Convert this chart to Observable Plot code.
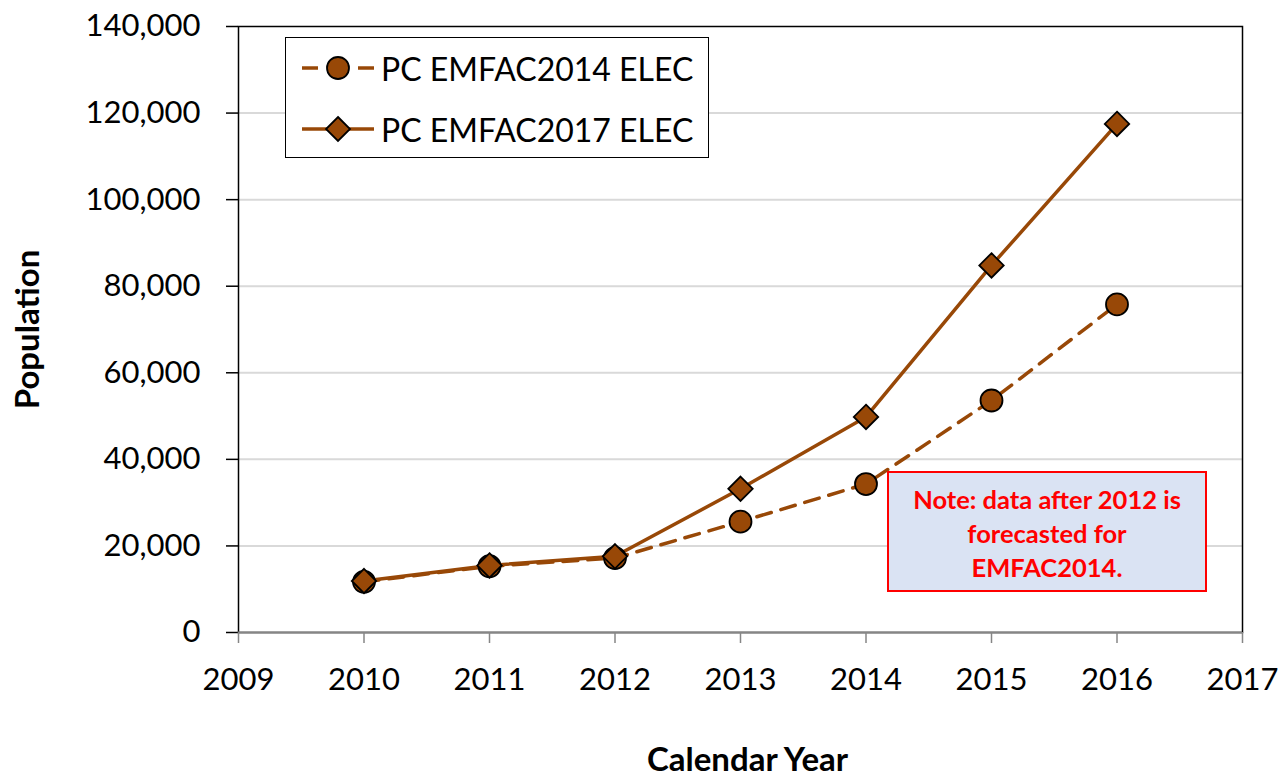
<!DOCTYPE html>
<html>
<head>
<meta charset="utf-8">
<script src="https://cdn.jsdelivr.net/npm/d3@7"></script>
<script src="https://cdn.jsdelivr.net/npm/@observablehq/plot@0.6"></script>
<style>
  html, body { margin: 0; padding: 0; background: #fff; }
  #wrap { position: relative; width: 1287px; height: 779px; font-family: Lato, "Open Sans", sans-serif; }
  #legend { position: absolute; left: 285px; top: 37px; width: 424px; height: 121px; border: 1.5px solid #000; background: #fff; box-sizing: border-box; }
  .lrow { position: absolute; left: 0; height: 40px; display: flex; align-items: center; }
  .lrow svg { margin-left: 14px; }
  .lrow span { font-size: 32px; color: #000; margin-left: 5px; white-space: nowrap; }
  #note { position: absolute; left: 887px; top: 471px; width: 320px; height: 121px; box-sizing: border-box; border: 2px solid #ff0000; background: #dae3f3; color: #ff0000; font-weight: 700; font-size: 25.5px; line-height: 34px; text-align: center; padding-top: 9px; }
</style>
</head>
<body>
<div id="wrap"></div>
<script>
const years = [2010, 2011, 2012, 2013, 2014, 2015, 2016];
const emfac2014 = [11700, 15300, 17200, 25600, 34300, 53600, 75800];
const emfac2017 = [11900, 15500, 17600, 33200, 49800, 84800, 117500];
const seriesNames = ["PC EMFAC2014 ELEC", "PC EMFAC2017 ELEC"];
const xTicks = [2009, 2010, 2011, 2012, 2013, 2014, 2015, 2016, 2017];
const yTicks = [0, 20000, 40000, 60000, 80000, 100000, 120000, 140000];
const gridValues = [20000, 40000, 60000, 80000, 100000, 120000];
const noteText = "Note: data after 2012 is<br>forecasted for<br>EMFAC2014.";

const brown = "#984807";
const d14 = years.map((y, i) => ({year: y, value: emfac2014[i]}));
const d17 = years.map((y, i) => ({year: y, value: emfac2017[i]}));

const chart = Plot.plot({
  width: 1287,
  height: 779,
  marginLeft: 238,
  marginRight: 45,
  marginTop: 26,
  marginBottom: 147,
  style: { fontFamily: "Lato, 'Open Sans', sans-serif", background: "#fff", overflow: "visible" },
  x: { domain: [2009, 2017] },
  y: { domain: [0, 140000] },
  marks: [
    Plot.ruleY(gridValues, { stroke: "#d9d9d9", strokeWidth: 2 }),
    Plot.frame({ stroke: "#000", strokeWidth: 1.5 }),
    Plot.ruleY([0], { stroke: "#868686", strokeWidth: 2 }),
    Plot.axisY({ ticks: yTicks, tickFormat: d3.format(","), tickSize: 12, tickPadding: 26, fontSize: 31, color: "#000", label: null, stroke: "#000", strokeWidth: 1.5 }),
    Plot.axisX({ ticks: xTicks, tickFormat: d => String(d), tickSize: 11, tickPadding: 24, fontSize: 31, label: null, stroke: "#868686", strokeWidth: 1.5 }),
    Plot.text(["Population"], { frameAnchor: "left", textAnchor: "middle", dx: -210, rotate: -90, fontSize: 33, fontWeight: "bold", fill: "#000" }),
    Plot.text(["Calendar Year"], { frameAnchor: "bottom", textAnchor: "middle", dy: 138, dx: 7, fontSize: 33, fontWeight: "bold", fill: "#000" }),
    Plot.line(d14, { x: "year", y: "value", stroke: brown, strokeWidth: 3.5, strokeDasharray: "15,10" }),
    Plot.line(d17, { x: "year", y: "value", stroke: brown, strokeWidth: 3.5 }),
    Plot.dot(d14, { x: "year", y: "value", symbol: "circle", r: 11, fill: brown, stroke: "#000", strokeWidth: 1.8 }),
    Plot.dot(d17, { x: "year", y: "value", symbol: "diamond2", r: 11, fill: brown, stroke: "#000", strokeWidth: 1.8 })
  ]
});

const wrap = document.getElementById("wrap");
wrap.appendChild(chart);

const legend = document.createElement("div");
legend.id = "legend";
legend.innerHTML = `
  <div class="lrow" style="top:10px">
    <svg width="76" height="30" viewBox="0 0 76 30">
      <line x1="2" y1="15" x2="18" y2="15" stroke="${brown}" stroke-width="3.5"/>
      <line x1="58" y1="15" x2="74" y2="15" stroke="${brown}" stroke-width="3.5"/>
      <circle cx="38" cy="15" r="11" fill="${brown}" stroke="#000" stroke-width="1.8"/>
    </svg>
    <span>${seriesNames[0]}</span>
  </div>
  <div class="lrow" style="top:71px">
    <svg width="76" height="30" viewBox="0 0 76 30">
      <line x1="2" y1="15" x2="74" y2="15" stroke="${brown}" stroke-width="3.5"/>
      <path d="M38,3 L50,15 L38,27 L26,15 Z" fill="${brown}" stroke="#000" stroke-width="1.8"/>
    </svg>
    <span>${seriesNames[1]}</span>
  </div>`;
wrap.appendChild(legend);

const note = document.createElement("div");
note.id = "note";
note.innerHTML = noteText;
wrap.appendChild(note);
</script>
</body>
</html>
